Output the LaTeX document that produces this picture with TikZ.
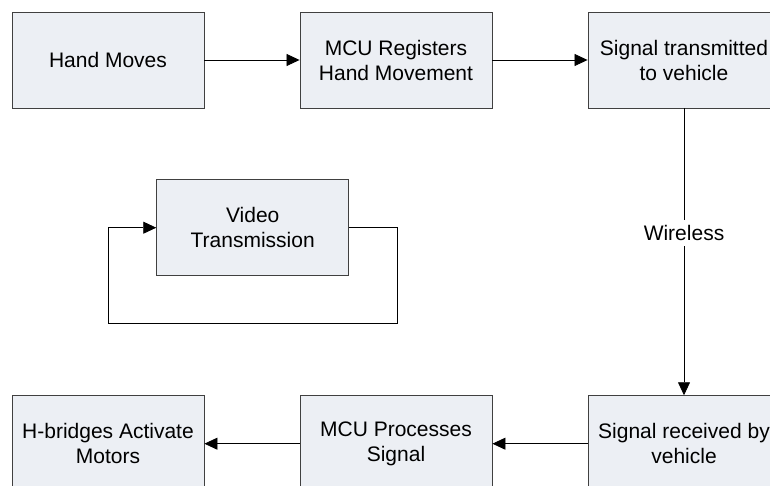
\documentclass[tikz,border=0pt]{standalone}
\usepackage{fontspec}
\setmainfont{Liberation Sans}
\usetikzlibrary{arrows.meta}
\definecolor{boxfill}{HTML}{ECEFF4}
\definecolor{boxline}{HTML}{404040}
\begin{document}
\begin{tikzpicture}[x=1pt, y=-1pt, >={Triangle[length=13pt,width=12pt]},
  stage/.style={draw=boxline, fill=boxfill, line width=0.9pt, rectangle,
    minimum width=192pt, minimum height=96pt, align=center, inner sep=2pt,
    font=\fontsize{21}{25}\selectfont},
  link/.style={->, line width=0.8pt, black}]
  % Frame
  \useasboundingbox (0,0) rectangle (770,486);
  \clip (0,0) rectangle (770,486);

  % Top row
  \node[stage] (hand) at (108,60) {Hand Moves};
  \node[stage] (mcureg) at (396,60) {MCU Registers\\Hand Movement};
  \node[stage] (sigtx) at (684,60) {Signal transmitted\\to vehicle};

  % Video loop
  \node[stage] (video) at (252.7,227.7) {Video\\Transmission};

  % Bottom row
  \node[stage] (hbridge) at (108,443.7) {H-bridges Activate\\Motors};
  \node[stage] (mcuproc) at (396,443.7) {MCU Processes\\Signal};
  \node[stage] (sigrx) at (684,443.7) {Signal received by\\vehicle};

  % Connections
  \draw[link] (hand) -- (mcureg);
  \draw[link] (mcureg) -- (sigtx);
  \draw[link] (sigtx) -- (sigrx)
    node[pos=0.435, fill=white, inner sep=5pt, font=\fontsize{21}{25}\selectfont] (wire) {Wireless};
  \draw[link] (sigrx) -- (mcuproc);
  \draw[link] (mcuproc) -- (hbridge);
  \draw[link] (video.east) -- ++(48,0) -- ++(0,95.6) -- ++(-288.4,0) |- (video.west);
\end{tikzpicture}
\end{document}
